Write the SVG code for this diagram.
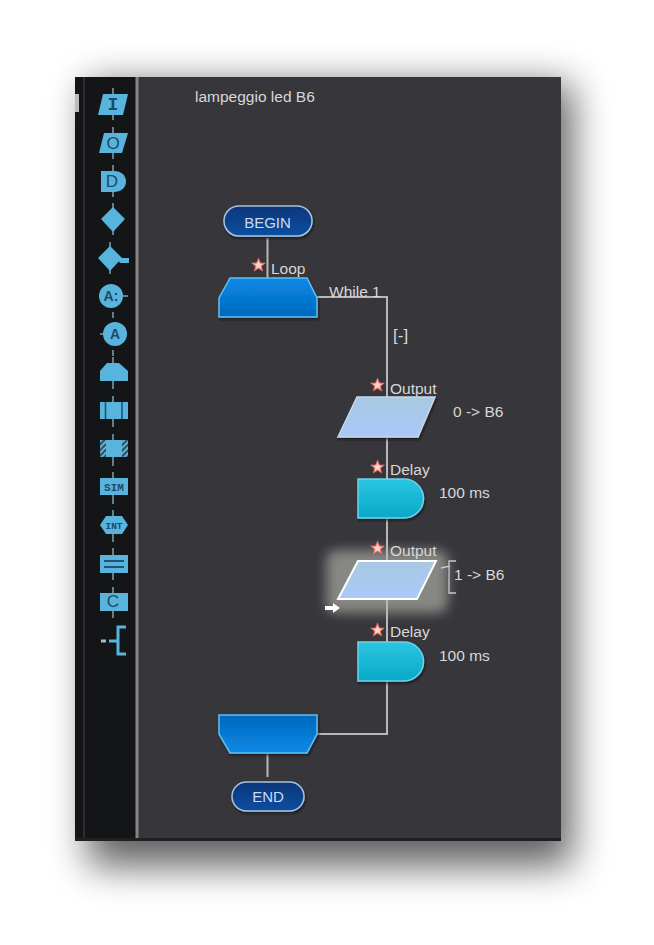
<svg xmlns="http://www.w3.org/2000/svg" width="654" height="945" viewBox="0 0 654 945">
<style>
.t{font-family:"Liberation Sans",Arial,sans-serif;font-size:15.500px;fill:#d8d8d8}
.c{fill:none;stroke:#b8b8b8;stroke-width:2}
.i{fill:#58b4dc}
.il{fill:none;stroke:#7fa0b2;stroke-width:1.500}
.it{font-family:"Liberation Sans",Arial,sans-serif;font-size:17px;fill:#1d4a66;text-anchor:middle}
.is{font-family:"Liberation Mono",monospace;font-size:11px;font-weight:bold;fill:#1d4a66;text-anchor:middle}
.d{stroke:#1d5578;stroke-width:1.600;fill:none}
.s{stroke-width:1.500;filter:url(#ds)}
.st{fill:#ffd6cf;stroke:#f2786c;stroke-width:1.200}
</style>
<defs>
<filter id="sh" x="-25%" y="-25%" width="150%" height="150%"><feGaussianBlur stdDeviation="19"/></filter>
<filter id="gl" x="-30%" y="-30%" width="160%" height="160%"><feGaussianBlur stdDeviation="6"/></filter>
<filter id="ds" x="-10%" y="-10%" width="125%" height="130%"><feDropShadow dx="1" dy="2" stdDeviation="1" flood-color="#111" flood-opacity=".7"/></filter>
<linearGradient id="term" x1="0" y1="0" x2="0" y2="1"><stop offset="0" stop-color="#07367a"/><stop offset="1" stop-color="#0a4ea0"/></linearGradient>
<linearGradient id="loopT" x1="0" y1="0" x2="0" y2="1"><stop offset="0" stop-color="#0a8ae6"/><stop offset="1" stop-color="#0268bd"/></linearGradient>
<linearGradient id="loopB" x1="0" y1="0" x2="0" y2="1"><stop offset="0" stop-color="#0268bd"/><stop offset="1" stop-color="#0a8ae6"/></linearGradient>
<linearGradient id="out" x1="0" y1="0" x2="0" y2="1"><stop offset="0" stop-color="#a8c8e2"/><stop offset="1" stop-color="#abc8fa"/></linearGradient>
<linearGradient id="del" x1="0" y1="0" x2="0" y2="1"><stop offset="0" stop-color="#2bc6e2"/><stop offset="1" stop-color="#08a8c8"/></linearGradient>
<pattern id="hatch" width="4" height="4" patternUnits="userSpaceOnUse" patternTransform="rotate(45)"><rect width="4" height="4" fill="#58b4dc"/><rect width="2" height="4" fill="#3a4a55"/></pattern>
<path id="star" d="M0 -6L1.700 -2L6 -1.700L2.700 1.100L3.700 5.300L0 3L-3.700 5.300L-2.700 1.100L-6 -1.700L-1.700 -2Z"/>
</defs>
<rect width="654" height="945" fill="#fff"/>
<rect x="88" y="84" width="484" height="782" fill="#000" opacity=".62" filter="url(#sh)"/>
<g id="window">
<rect x="75" y="77" width="486" height="764" fill="#37363b"/>
<rect x="75" y="77" width="61" height="764" fill="#141516"/>
<rect x="83" y="77" width="2" height="761" fill="#2c2c2e"/>
<rect x="135.500" y="77" width="3" height="761" fill="#858585"/>
<rect x="75" y="838" width="486" height="3" fill="#1f1f22"/>
<rect x="75" y="94" width="4" height="18" fill="#bbb"/>
</g>
<g id="palette">
<path class="il" d="M113 88V120M113 127V159M113 165V197M113 203V235M110 242V274M113 312V318M113 350V356M113 357V389M113 396V427M113 434V466M113 472V504M113 510V542M113 548V580M113 587V618"/>
<path class="i" d="M103 94H128L123 115H98Z"/><text class="is" x="113" y="110" style="font-size:18px">I</text>
<path class="i" d="M104 133H128L122 153H99Z"/><text class="it" x="113" y="149">O</text>
<path class="i" d="M101 171H115A11 10.500 0 0 1 115 192H101Z"/><text class="it" x="112" y="187">D</text>
<path class="i" d="M113 207L125 219L113 232L101 219Z"/>
<path class="i" d="M110 246L122 258L110 271L98 258Z"/><path d="M117 258H129V263H120Z" fill="#58b4dc"/>
<circle class="i" cx="111" cy="296" r="12"/><path class="il" d="M122 296H128"/><text x="111" y="301" class="it" style="font-size:14px;font-weight:bold">A:</text>
<circle class="i" cx="115" cy="334" r="12"/><path class="il" d="M100 334H104"/><text x="115" y="339" class="it" style="font-size:14px;font-weight:bold">A</text>
<path class="i" d="M107 363H119L128 371V381H100V371Z"/>
<rect class="i" x="100" y="402" width="28" height="17"/><path class="d" d="M105.500 402V419M122 402V419"/>
<rect class="i" x="100" y="440" width="28" height="17"/><path d="M100 440h6v17h-6zM122 440h6v17h-6z" fill="url(#hatch)"/>
<rect class="i" x="100" y="478" width="28" height="17"/><text class="is" x="114" y="491">SIM</text>
<path class="i" d="M106 516H122L128 525L122 534H106L100 525Z"/><text class="is" x="114" y="529" style="font-size:9.500px">INT</text>
<rect class="i" x="100" y="555" width="28" height="18"/><path class="d" d="M104 561H124M104 567H124" style="stroke-width:2"/>
<rect class="i" x="100" y="593" width="28" height="18"/><text class="it" x="113" y="607">C</text>
<path d="M126 627H118V654H126M109 641H118" fill="none" stroke="#58b4dc" stroke-width="3"/><path d="M101 641H106" stroke="#a9b9c2" stroke-width="3"/>
</g>
<text class="t" x="195" y="102">lampeggio led B6</text>
<rect x="326" y="550" width="122" height="63" rx="10" fill="#bdbdb4" opacity=".6" filter="url(#gl)"/>
<g id="connectors">
<path class="c" d="M267.500 238V278"/>
<path class="c" d="M317 297H387V397"/>
<path class="c" d="M387 437V479"/>
<path class="c" d="M387 518V561"/>
<path class="c" d="M387 599V642"/>
<path class="c" d="M387 681V734H317"/>
<path class="c" d="M267.500 753V777"/>
<path d="M441 568L450 566M456 561H449V593H456" fill="none" stroke="#c8c8c8" stroke-width="1.300"/>
</g>
<g id="begin"><rect class="s" x="224" y="206" width="88" height="30" rx="15" fill="url(#term)" stroke="#a9c4dc"/><text class="t" x="267.500" y="228" text-anchor="middle" style="font-size:15px;fill:#c8dcf5">BEGIN</text></g>
<g id="loop"><path class="s" d="M230 278H307L317 298V317H219V298Z" fill="url(#loopT)" stroke="#5fc0ee"/><use href="#star" class="st" x="258.500" y="265"/><text class="t" x="271" y="274">Loop</text><text class="t" x="329" y="297">While 1</text><text class="t" x="393" y="341" style="font-size:17px">[-]</text></g>
<g id="output1"><path class="s" d="M357 397H435L418 437H338Z" fill="url(#out)" stroke="#c4d8ea"/><use href="#star" class="st" x="377.500" y="385"/><text class="t" x="390" y="394">Output</text><text class="t" x="453" y="417">0 -&gt; B6</text></g>
<g id="delay1"><path class="s" d="M358 479H404A19.500 19.500 0 0 1 404 518H358Z" fill="url(#del)" stroke="#6cd4e8"/><use href="#star" class="st" x="377.500" y="467"/><text class="t" x="390" y="475">Delay</text><text class="t" x="439" y="498">100 ms</text></g>
<g id="output2"><path d="M358 561H436L417 599H338Z" fill="url(#out)" stroke="#fff" stroke-width="2"/><use href="#star" class="st" x="377.500" y="548"/><text class="t" x="390" y="556">Output</text><text class="t" x="454" y="580">1 -&gt; B6</text><path d="M325 606H333V603L340 608L333 613V610H325Z" fill="#fff"/></g>
<g id="delay2"><path class="s" d="M358 642H404A19.500 19.500 0 0 1 404 681H358Z" fill="url(#del)" stroke="#6cd4e8"/><use href="#star" class="st" x="377.500" y="630"/><text class="t" x="390" y="637">Delay</text><text class="t" x="439" y="661">100 ms</text></g>
<g id="loopend"><path class="s" d="M219 715H317V734L307 753H230L219 734Z" fill="url(#loopB)" stroke="#5fc0ee"/></g>
<g id="end"><rect class="s" x="232" y="782" width="72" height="29" rx="14.500" fill="url(#term)" stroke="#a9c4dc"/><text class="t" x="268" y="802" text-anchor="middle" style="font-size:15px;fill:#c8dcf5">END</text></g>
</svg>
